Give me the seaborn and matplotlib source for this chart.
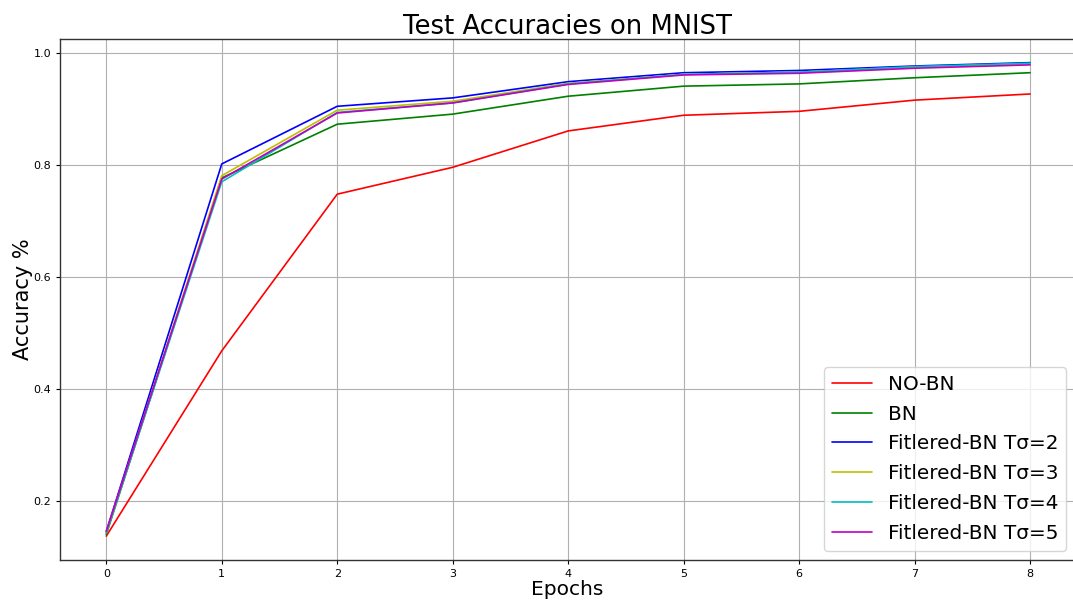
import matplotlib
matplotlib.use("Agg")
import matplotlib.pyplot as plt
import seaborn as sns
import pandas as pd

epochs = [0, 1, 2, 3, 4, 5, 6, 7, 8]
no_bn = [0.137, 0.468, 0.748, 0.796, 0.861, 0.889, 0.896, 0.916, 0.927]
bn = [0.140, 0.777, 0.873, 0.891, 0.923, 0.941, 0.945, 0.956, 0.965]
fbn2 = [0.145, 0.802, 0.905, 0.920, 0.949, 0.965, 0.969, 0.977, 0.983]
fbn3 = [0.143, 0.781, 0.898, 0.914, 0.946, 0.962, 0.966, 0.975, 0.981]
fbn4 = [0.143, 0.770, 0.894, 0.911, 0.945, 0.962, 0.966, 0.976, 0.982]
fbn5 = [0.146, 0.775, 0.893, 0.911, 0.944, 0.961, 0.964, 0.973, 0.979]

labels = ["NO-BN", "BN", "Fitlered-BN Tσ=2", "Fitlered-BN Tσ=3",
          "Fitlered-BN Tσ=4", "Fitlered-BN Tσ=5"]
series = [no_bn, bn, fbn2, fbn3, fbn4, fbn5]
colors = ["red", "green", "blue", "#bfbf00", "#00bfbf", "#bf00bf"]

rows = []
for lab, vals in zip(labels, series):
    for e, v in zip(epochs, vals):
        rows.append({"Epochs": e, "Accuracy": v, "Model": lab})
df = pd.DataFrame(rows)

sns.set_style("whitegrid")
plt.rcParams['font.family'] = ['DejaVu Sans']

fig = plt.figure(figsize=(10.73, 6.02), dpi=100)
ax = fig.add_axes([0.056, 0.070, 0.946, 0.865])
sns.lineplot(data=df, x="Epochs", y="Accuracy", hue="Model",
             palette=dict(zip(labels, colors)), hue_order=labels,
             linewidth=1.2, ax=ax)

ax.set_xlim(-0.4, 8.39)
ax.set_ylim(0.0946, 1.025)
ax.set_xticks(range(0, 9))
ax.set_yticks([0.2, 0.4, 0.6, 0.8, 1.0])
ax.set_yticklabels(["0.2", "0.4", "0.6", "0.8", "1.0"])
ax.tick_params(labelsize=8, length=3, color="black", labelcolor="black",
               left=True, bottom=True)
ax.grid(True, color="#b0b0b0", linewidth=0.8)
for s in ax.spines.values():
    s.set_color("#333333")
    s.set_linewidth(1.0)

ax.set_title("Test Accuracies on MNIST", fontsize=18.6, pad=4, color="black")
ax.set_xlabel("Epochs", fontsize=14.5, labelpad=1, color="black")
ax.set_ylabel("Accuracy %", fontsize=15, labelpad=0, color="black")

leg = ax.legend(loc="lower right", fontsize=14.4, frameon=True,
                borderaxespad=0.45, labelspacing=0.54)
leg.get_frame().set_edgecolor("#cccccc")
for t in leg.get_texts():
    t.set_color("black")

fig.savefig("out.png", dpi=100)
